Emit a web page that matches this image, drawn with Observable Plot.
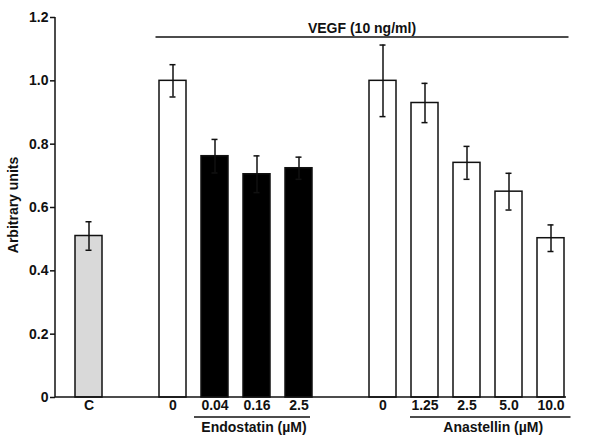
<!DOCTYPE html>
<html>
<head>
<meta charset="utf-8">
<script src="https://cdn.jsdelivr.net/npm/d3@7"></script>
<script src="https://cdn.jsdelivr.net/npm/@observablehq/plot@0.6"></script>
<style>
  html, body { margin: 0; padding: 0; background: #fff; }
</style>
</head>
<body>
<div id="chart"></div>
<script>
// ---- data ----
const categories = ["C", "V0", "E0.04", "E0.16", "E2.5", "A0", "A1.25", "A2.5", "A5.0", "A10.0"];
const tickLabels = ["C", "0", "0.04", "0.16", "2.5", "0", "1.25", "2.5", "5.0", "10.0"];
const means  = [0.51, 1.00, 0.762, 0.705, 0.724, 1.00, 0.930, 0.741, 0.650, 0.503];
const errors = [0.045, 0.051, 0.053, 0.058, 0.035, 0.113, 0.062, 0.052, 0.058, 0.042];
const fills  = ["#d9d9d9", "#ffffff", "#000000", "#000000", "#000000", "#ffffff", "#ffffff", "#ffffff", "#ffffff", "#ffffff"];
const yTicks = [0, 0.2, 0.4, 0.6, 0.8, 1.0, 1.2];
const yLabel = "Arbitrary units";
const groupTitle = "VEGF (10 ng/ml)";
const endostatinLabel = "Endostatin (µM)";
const anastellinLabel = "Anastellin (µM)";

// ---- build table ----
const rows = categories.map((c, i) => ({
  cat: c, label: tickLabels[i], mean: means[i], err: errors[i], fill: fills[i],
  lo: means[i] - errors[i], hi: means[i] + errors[i]
}));
// slots with empty gaps between the groups
const slots = ["C", "gap1", "V0", "E0.04", "E0.16", "E2.5", "gap2", "A0", "A1.25", "A2.5", "A5.0", "A10.0"];
const labelOf = new Map(rows.map(d => [d.cat, d.label]));

const FONT = "'Liberation Sans', Arial, Helvetica, sans-serif";

function annotations(index, scales, values, dims) {
  const {x, y} = scales;
  const bw = typeof x.bandwidth === "function" ? x.bandwidth() : x.bandwidth;
  const g = d3.create("svg:g")
    .attr("fill", "none")
    .attr("stroke", "#111")
    .attr("stroke-width", 1.5);
  const left = dims.marginLeft;
  const bottom = dims.height - dims.marginBottom;
  // y axis line
  g.append("line").attr("x1", left).attr("x2", left).attr("y1", y(0)).attr("y2", y(1.2));
  // x axis line
  g.append("line").attr("x1", left).attr("x2", x("A10.0") + bw + 2).attr("y1", y(0)).attr("y2", y(0));
  // VEGF bracket
  const vy = y(1.137);
  const v1 = x("V0") - 3.5, v2 = x("A10.0") + bw + 4.5;
  g.append("line").attr("x1", v1).attr("x2", v2).attr("y1", vy).attr("y2", vy);
  g.append("text").attr("x", (v1 + v2) / 2).attr("y", vy - 4).text(groupTitle);
  // Endostatin underline
  const uy = bottom + 20;
  const e1 = x("E0.04") - 7, e2 = x("E2.5") + bw - 2;
  g.append("line").attr("x1", e1).attr("x2", e2).attr("y1", uy).attr("y2", uy);
  g.append("text").attr("x", (e1 + e2) / 2 + 2).attr("y", uy + 15).text(endostatinLabel);
  // Anastellin underline
  const a1 = x("A1.25") - 1, a2 = x("A10.0") + bw + 6.5;
  g.append("line").attr("x1", a1).attr("x2", a2).attr("y1", uy).attr("y2", uy);
  g.append("text").attr("x", (a1 + a2) / 2 + 3).attr("y", uy + 15).text(anastellinLabel);
  // y-axis title
  const cy = (y(0) + y(1.2)) / 2 - 2;
  g.append("text").attr("transform", `translate(18,${cy}) rotate(-90)`).text(yLabel);
  g.selectAll("text")
    .attr("stroke", "none").attr("fill", "#111")
    .attr("text-anchor", "middle")
    .attr("font-family", FONT).attr("font-size", 14).attr("font-weight", "bold");
  return g.node();
}

const chart = Plot.plot({
  width: 600,
  height: 439,
  marginTop: 17,
  marginBottom: 42,
  marginLeft: 55,
  marginRight: 15.6,
  style: {fontFamily: FONT, fontSize: "14px", fontWeight: "bold", color: "#111", background: "#fff"},
  x: {type: "band", domain: slots, paddingInner: 0.3686, paddingOuter: 0.374, axis: null},
  y: {domain: [0, 1.2], axis: null},
  marks: [
    Plot.barY(rows, {x: "cat", y: "mean", fill: "fill", stroke: "#111", strokeWidth: 1.5}),
    Plot.ruleX(rows, {x: "cat", y1: "lo", y2: "hi", stroke: "#111", strokeWidth: 1.5}),
    Plot.tickY(rows, {x: "cat", y: "lo", stroke: "#111", strokeWidth: 1.5, insetLeft: 10.5, insetRight: 10.5}),
    Plot.tickY(rows, {x: "cat", y: "hi", stroke: "#111", strokeWidth: 1.5, insetLeft: 10.5, insetRight: 10.5}),
    Plot.axisY({
      ticks: yTicks, tickSize: 5, tickPadding: 2, strokeWidth: 1.5,
      tickFormat: d => d === 0 ? "0" : d3.format(".1f")(d),
      fontSize: 14, fontWeight: "bold", label: null
    }),
    Plot.axisX({
      tickSize: 0, tickPadding: 3, fontSize: 14, fontWeight: "bold", label: null,
      tickFormat: d => labelOf.get(d) ?? ""
    }),
    annotations
  ]
});
document.getElementById("chart").appendChild(chart);
</script>
</body>
</html>
